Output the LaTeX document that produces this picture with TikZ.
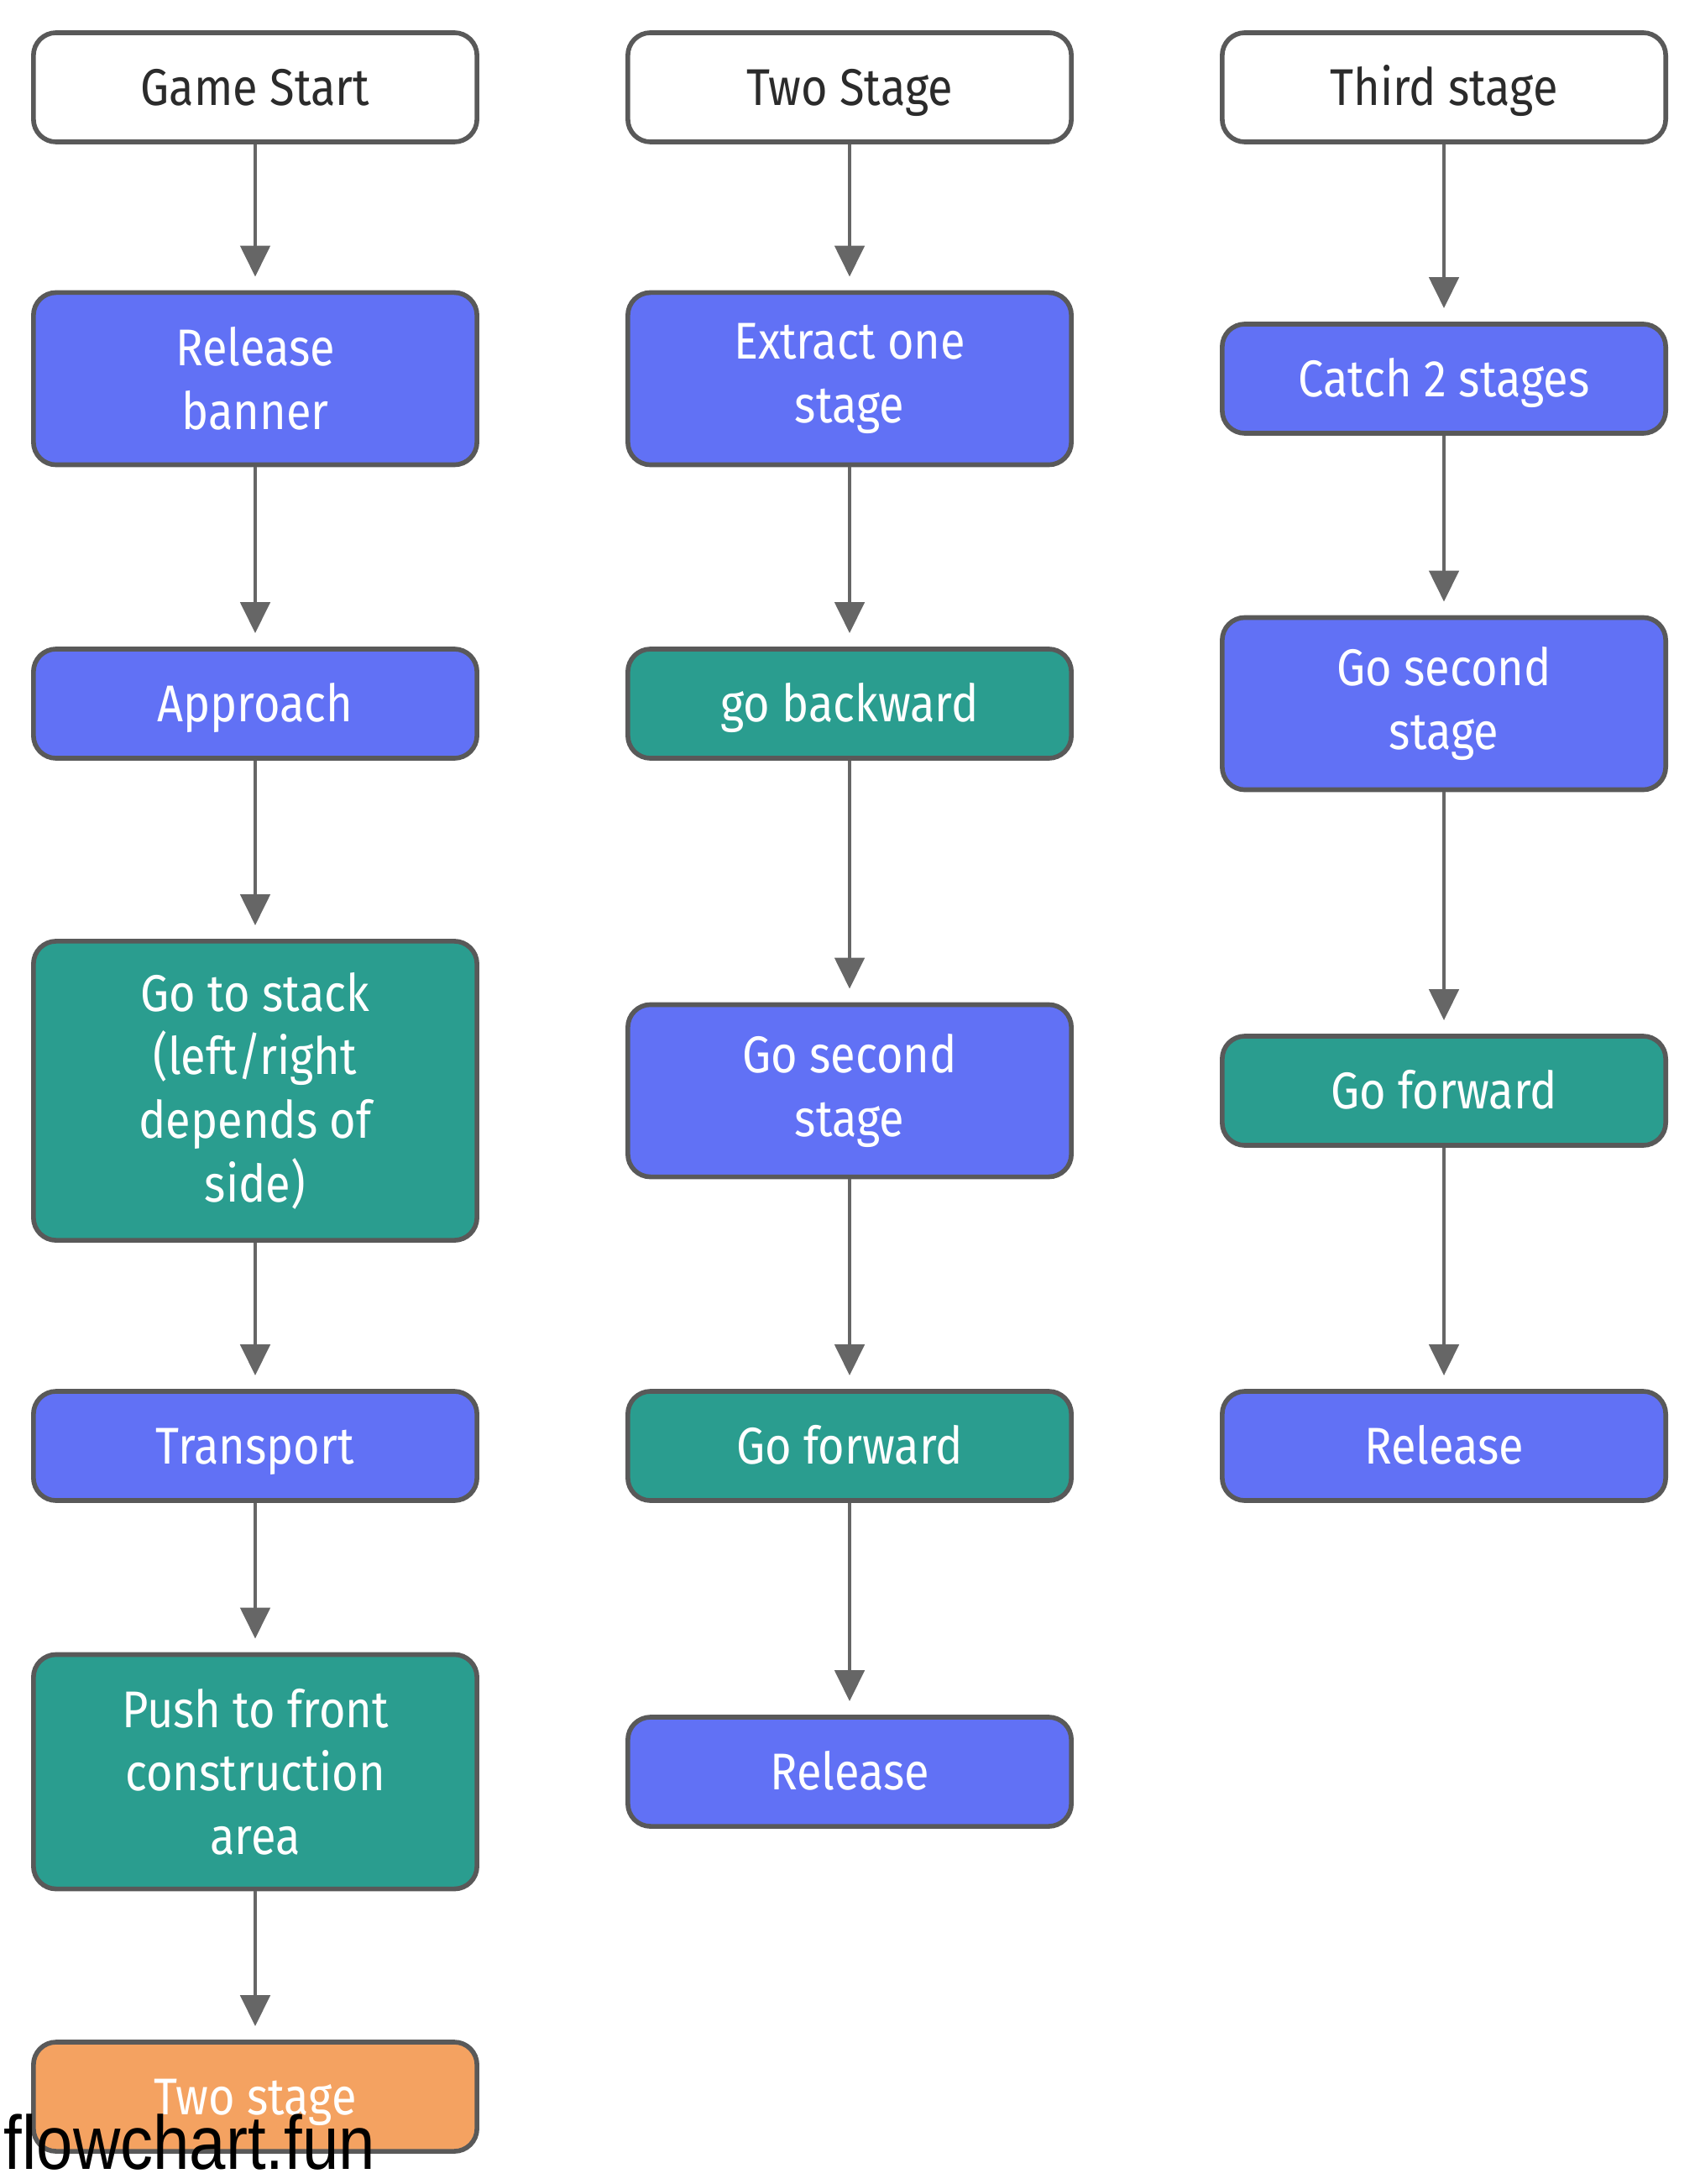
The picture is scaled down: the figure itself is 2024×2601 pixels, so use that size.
\documentclass[tikz,border=0pt]{standalone}
\usepackage{fontspec}
\setmainfont[FakeStretch=0.88]{Fira Sans}
\newfontfamily\markfont[FakeStretch=0.86]{Liberation Sans}
\usepackage{xcolor}
\usetikzlibrary{arrows.meta}
\definecolor{stepblue}{HTML}{6171F5}
\definecolor{stepteal}{HTML}{2A9D8F}
\definecolor{steporange}{HTML}{F4A261}
\definecolor{edgegray}{HTML}{595959}
\definecolor{arrowgray}{HTML}{666666}
\definecolor{textdark}{HTML}{2B2B2B}
\tikzset{
  box/.style={rectangle,rounded corners=0.27cm,draw=edgegray,line width=1.6pt,
    minimum width=5.28cm,minimum height=1.30cm,inner sep=0pt,align=center,
    text=white,font=\fontsize{17.5}{21.5}\selectfont},
  headbox/.style={box,fill=white,text=textdark},
  bluebox/.style={box,fill=stepblue},
  tealbox/.style={box,fill=stepteal},
  orangebox/.style={box,fill=steporange},
  oneline/.style={text height=13.6pt,text depth=1.2pt},
  tall2/.style={minimum height=2.05cm},
  tall3/.style={minimum height=2.79cm},
  tall4/.style={minimum height=3.56cm},
  link/.style={draw=arrowgray,line width=1.4pt,shorten >=0.16cm,
    -{Triangle[width=0.35cm,length=0.37cm]}}
}
\begin{document}
\begin{tikzpicture}[x=0.01cm,y=-0.01cm]
\useasboundingbox (0,0) rectangle (2024,2601);
\node (a1) at ( 304, 104) [headbox,oneline] {Game Start};
\node (a2) at ( 304, 451) [bluebox,tall2] {Release\\banner};
\node (a3) at ( 304, 838) [bluebox,oneline] {Approach};
\node (a4) at ( 304,1299) [tealbox,tall4] {Go to stack\\(left/right\\depends of\\side)};
\node (a5) at ( 304,1722) [bluebox,oneline] {Transport};
\node (a6) at ( 304,2110) [tealbox,tall3] {Push to front\\construction\\area};
\node (a7) at ( 304,2497) [orangebox,oneline] {Two stage};
\node (b1) at (1012, 104) [headbox,oneline] {Two Stage};
\node (b2) at (1012, 451) [bluebox,tall2] {Extract one\\stage};
\node (b3) at (1012, 838) [tealbox,oneline] {go backward};
\node (b4) at (1012,1299) [bluebox,tall2] {Go second\\stage};
\node (b5) at (1012,1722) [tealbox,oneline] {Go forward};
\node (b6) at (1012,2110) [bluebox,oneline] {Release};
\node (c1) at (1720, 104) [headbox,oneline] {Third stage};
\node (c2) at (1720, 451) [bluebox,oneline] {Catch 2 stages};
\node (c3) at (1720, 838) [bluebox,tall2] {Go second\\stage};
\node (c4) at (1720,1299) [tealbox,oneline] {Go forward};
\node (c5) at (1720,1722) [bluebox,oneline] {Release};
\draw [link] (a1) -- (a2);
\draw [link] (a2) -- (a3);
\draw [link] (a3) -- (a4);
\draw [link] (a4) -- (a5);
\draw [link] (a5) -- (a6);
\draw [link] (a6) -- (a7);
\draw [link] (b1) -- (b2);
\draw [link] (b2) -- (b3);
\draw [link] (b3) -- (b4);
\draw [link] (b4) -- (b5);
\draw [link] (b5) -- (b6);
\draw [link] (c1) -- (c2);
\draw [link] (c2) -- (c3);
\draw [link] (c3) -- (c4);
\draw [link] (c4) -- (c5);
\node (mark) at (4,2583) [anchor=base west,inner sep=0pt,
  font=\markfont\fontsize{25.8}{30}\selectfont] {flowchart.fun};
\end{tikzpicture}
\end{document}
